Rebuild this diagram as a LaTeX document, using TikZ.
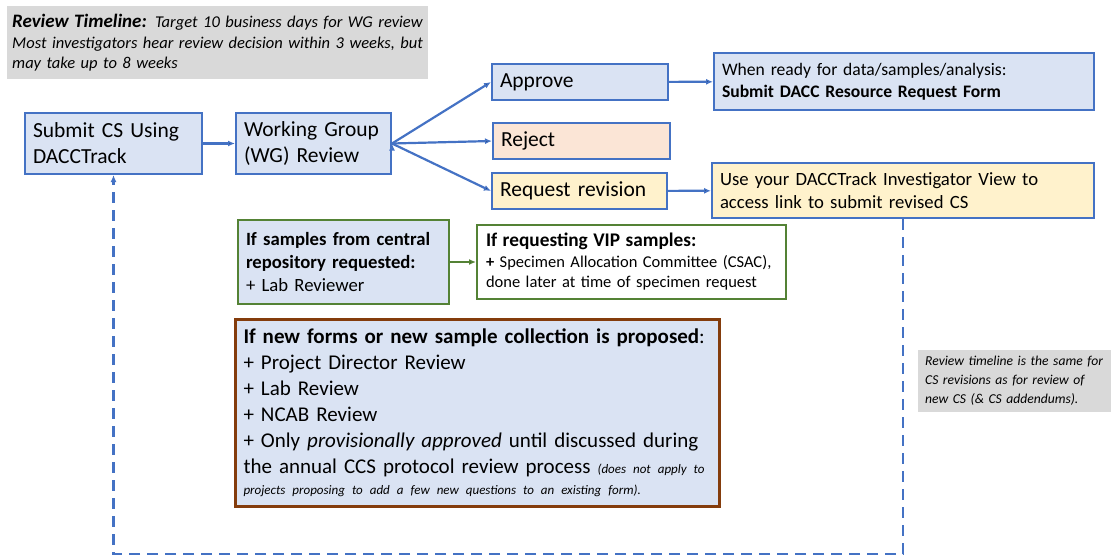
\documentclass[tikz,border=0pt]{standalone}
\usepackage{fontspec}
\setmainfont{Carlito}
\usepackage{tikz}
\usetikzlibrary{arrows.meta}

\definecolor{cblue}{HTML}{4472C4}
\definecolor{cfill}{HTML}{DAE3F3}
\definecolor{cpeach}{HTML}{FBE5D6}
\definecolor{cyellow}{HTML}{FFF2CC}
\definecolor{cgreen}{HTML}{548235}
\definecolor{cbrown}{HTML}{843C0C}
\definecolor{cgray}{HTML}{D9D9D9}

\begin{document}
\begin{tikzpicture}[x=1pt,y=-1pt,
  box/.style={rectangle,draw=cblue,line width=2pt,fill=cfill,anchor=north west,align=left,inner xsep=8pt,inner ysep=0pt,font=\fontsize{21.5}{26}\selectfont},
  note/.style={rectangle,fill=cgray,anchor=north west,align=left,inner xsep=5pt,inner ysep=0pt},
  flow/.style={draw=cblue,line width=2.2pt,-{Latex[length=7pt,width=6pt]}}]
\useasboundingbox (0,0) rectangle (1111,557);

% notes
\node[note] (timeline) at (7,6) [text width=411pt, minimum height=73pt, font=\fontsize{16.5}{20.5}\selectfont\itshape]
  {{\fontsize{19}{20.5}\selectfont\bfseries Review Timeline:} Target 10 business days for WG review\\
   Most investigators hear review decision within 3 weeks, but\\ may take up to 8 weeks};
\node[note] (sidenote) at (918,350) [inner xsep=7pt, text width=182pt, minimum height=62pt, font=\fontsize{13.6}{19}\selectfont\itshape]
  {Review timeline is the same for\\ CS revisions as for review of\\ new CS (\& CS addendums).};

% main flow
\node[box] (submit) at (24,112) [text width=161pt, minimum height=61pt] {Submit CS Using\\ DACCTrack};
\node[box] (wg) at (235,112) [text width=139pt, minimum height=61pt] {Working Group\\ (WG) Review};
\node[box] (approve) at (491,63) [text width=160pt, minimum height=36pt] {Approve};
\node[box] (reject) at (492,122) [text width=161pt, minimum height=36pt, fill=cpeach] {Reject};
\node[box] (revision) at (491,172) [text width=159pt, minimum height=36pt, fill=cyellow] {Request revision};
\node[box] (ready) at (713,52) [text width=364pt, minimum height=57pt, font=\fontsize{17.6}{22}\selectfont]
  {When ready for data/samples/analysis:\\ \textbf{Submit DACC Resource Request Form}};
\node[box] (use) at (711,162) [text width=366pt, minimum height=55pt, fill=cyellow, font=\fontsize{18.7}{23}\selectfont]
  {Use your DACCTrack Investigator View to\\ access link to submit revised CS};

% extra reviews
\node[box] (samples) at (237,219) [draw=cgreen, text width=195pt, minimum height=84pt, font=\fontsize{18.7}{23}\selectfont]
  {\textbf{If samples from central}\\ \textbf{repository requested:}\\ + Lab Reviewer};
\node[box] (vip) at (476,224) [draw=cgreen, fill=white, inner xsep=9pt, text width=291pt, minimum height=74pt, font=\fontsize{16.5}{20.5}\selectfont]
  {{\fontsize{19.3}{20.5}\selectfont\bfseries If requesting VIP samples:}\\ \textbf{+} Specimen Allocation Committee (CSAC),\\ done later at time of specimen request};
\node[box] (newforms) at (234,318) [draw=cbrown, line width=3pt, text width=468pt, minimum height=187pt, font=\fontsize{21}{26}\selectfont]
  {\textbf{If new forms or new sample collection is proposed}:\\ + Project Director Review\\ + Lab Review\\ + NCAB Review\\
   + Only \textit{provisionally approved} until discussed during\\
   the annual CCS protocol review process {\fontsize{13}{18}\selectfont\itshape (does not apply to}\\[-5pt]
   {\fontsize{13}{18}\selectfont\itshape projects proposing to add a few new questions to an existing form).}};

\coordinate (bottom) at (0,554);

\path[flow]
(submit) edge (wg)
(wg.east) edge (approve.west)
    edge (reject.west)
    edge (revision.west)
(approve) edge (ready)
(revision) edge (use);
\path[flow, draw=cgreen] (samples) edge (vip);
\draw[flow, dash pattern=on 11pt off 7pt] (use.south) -- (use.south |- bottom) -| (submit.south);
\end{tikzpicture}
\end{document}
